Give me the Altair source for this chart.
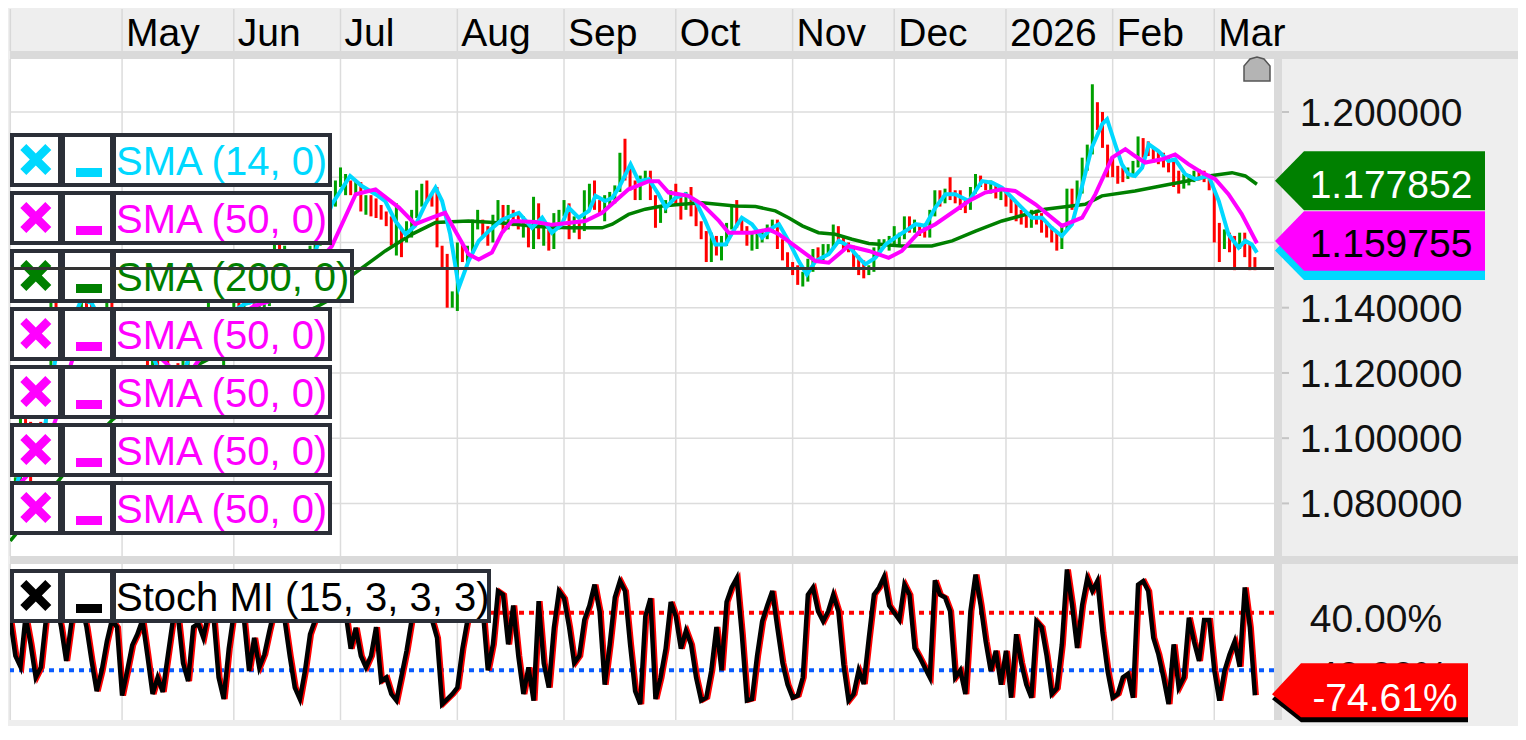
import altair as alt
import pandas as pd

FONT = "Liberation Sans"

# ---------------- values ----------------
# daily bars (trading-day index 0 = 1 Apr 2025 ... 245 = 12 Mar 2026)
close = [
    1.0790, 1.0850, 1.1050, 1.0960, 1.0910, 1.0960, 1.0950, 1.1190, 1.1360, 1.1350,
    1.1285, 1.1395, 1.1370, 1.1390, 1.1510, 1.1420, 1.1310, 1.1390, 1.1365, 1.1420,
    1.1380, 1.1330, 1.1290, 1.1300, 1.1315, 1.1370, 1.1300, 1.1220, 1.1250, 1.1090,
    1.1190, 1.1180, 1.1190, 1.1160, 1.1240, 1.1285, 1.1330, 1.1280, 1.1360, 1.1385,
    1.1325, 1.1290, 1.1370, 1.1350, 1.1440, 1.1370, 1.1415, 1.1445, 1.1395, 1.1420,
    1.1425, 1.1490, 1.1580, 1.1550, 1.1560, 1.1480, 1.1480, 1.1490, 1.1520, 1.1580,
    1.1610, 1.1660, 1.1700, 1.1720, 1.1785, 1.1800, 1.1800, 1.1760, 1.1780, 1.1710,
    1.1725, 1.1720, 1.1700, 1.1690, 1.1670, 1.1600, 1.1640, 1.1600, 1.1625, 1.1690,
    1.1755, 1.1770, 1.1750, 1.1740, 1.1590, 1.1545, 1.1405, 1.1410, 1.1590, 1.1570,
    1.1575, 1.1660, 1.1665, 1.1640, 1.1615, 1.1675, 1.1705, 1.1650, 1.1700, 1.1660,
    1.1650, 1.1650, 1.1610, 1.1720, 1.1620, 1.1640, 1.1590, 1.1680, 1.1685, 1.1710,
    1.1640, 1.1660, 1.1645, 1.1720, 1.1760, 1.1710, 1.1700, 1.1735, 1.1735, 1.1765,
    1.1850, 1.1815, 1.1780, 1.1745, 1.1800, 1.1815, 1.1740, 1.1665, 1.1700, 1.1725,
    1.1735, 1.1730, 1.1715, 1.1740, 1.1710, 1.1660, 1.1630, 1.1560, 1.1620, 1.1570,
    1.1605, 1.1650, 1.1690, 1.1655, 1.1645, 1.1605, 1.1610, 1.1615, 1.1625, 1.1645,
    1.1655, 1.1600, 1.1565, 1.1535, 1.1520, 1.1480, 1.1495, 1.1545, 1.1565, 1.1560,
    1.1580, 1.1590, 1.1630, 1.1620, 1.1590, 1.1580, 1.1540, 1.1530, 1.1510, 1.1520,
    1.1570, 1.1595, 1.1600, 1.1600, 1.1610, 1.1620, 1.1665, 1.1645, 1.1645, 1.1640,
    1.1630, 1.1690, 1.1740, 1.1735, 1.1750, 1.1745, 1.1740, 1.1725, 1.1710, 1.1760,
    1.1790, 1.1780, 1.1770, 1.1770, 1.1745, 1.1745, 1.1720, 1.1705, 1.1690, 1.1665,
    1.1660, 1.1685, 1.1670, 1.1650, 1.1640, 1.1615, 1.1600, 1.1640, 1.1730, 1.1720,
    1.1760, 1.1840, 1.1880, 1.2020, 1.1960, 1.1950, 1.1850, 1.1820, 1.1810, 1.1800,
    1.1815, 1.1840, 1.1900, 1.1890, 1.1880, 1.1860, 1.1850, 1.1845, 1.1830, 1.1790,
    1.1780, 1.1790, 1.1800, 1.1810, 1.1805, 1.1800, 1.1780, 1.1640, 1.1600, 1.1620,
    1.1615, 1.1570, 1.1610, 1.1600, 1.1560, 1.1540,
]
high = [
    1.0835, 1.0880, 1.1145, 1.1110, 1.1050, 1.0990, 1.1050, 1.1215, 1.1470, 1.1420,
    1.1375, 1.1400, 1.1390, 1.1395, 1.1575, 1.1510, 1.1415, 1.1400, 1.1390, 1.1425,
    1.1420, 1.1385, 1.1350, 1.1365, 1.1355, 1.1380, 1.1380, 1.1310, 1.1270, 1.1250,
    1.1205, 1.1265, 1.1210, 1.1230, 1.1290, 1.1300, 1.1365, 1.1345, 1.1375, 1.1420,
    1.1390, 1.1335, 1.1385, 1.1385, 1.1455, 1.1445, 1.1435, 1.1495, 1.1450, 1.1430,
    1.1450, 1.1500, 1.1630, 1.1615, 1.1590, 1.1560, 1.1520, 1.1500, 1.1540, 1.1590,
    1.1640, 1.1680, 1.1745, 1.1755, 1.1790, 1.1830, 1.1810, 1.1790, 1.1790, 1.1785,
    1.1745, 1.1745, 1.1735, 1.1715, 1.1695, 1.1680, 1.1720, 1.1640, 1.1665, 1.1700,
    1.1760, 1.1780, 1.1790, 1.1750, 1.1770, 1.1590, 1.1565, 1.1450, 1.1600, 1.1600,
    1.1590, 1.1670, 1.1700, 1.1670, 1.1650, 1.1685, 1.1730, 1.1715, 1.1715, 1.1700,
    1.1690, 1.1680, 1.1660, 1.1740, 1.1720, 1.1660, 1.1660, 1.1690, 1.1700, 1.1730,
    1.1720, 1.1680, 1.1670, 1.1760, 1.1780, 1.1790, 1.1730, 1.1745, 1.1755, 1.1775,
    1.1875, 1.1918, 1.1830, 1.1790, 1.1805, 1.1820, 1.1820, 1.1745, 1.1710, 1.1730,
    1.1760, 1.1780, 1.1750, 1.1755, 1.1770, 1.1720, 1.1665, 1.1635, 1.1630, 1.1620,
    1.1620, 1.1660, 1.1715, 1.1730, 1.1670, 1.1650, 1.1630, 1.1630, 1.1640, 1.1655,
    1.1670, 1.1670, 1.1610, 1.1570, 1.1540, 1.1530, 1.1510, 1.1550, 1.1580, 1.1585,
    1.1595, 1.1595, 1.1655, 1.1650, 1.1620, 1.1600, 1.1590, 1.1560, 1.1545, 1.1530,
    1.1585, 1.1610, 1.1610, 1.1620, 1.1650, 1.1630, 1.1680, 1.1680, 1.1670, 1.1660,
    1.1655, 1.1700, 1.1760, 1.1760, 1.1765, 1.1800, 1.1760, 1.1760, 1.1730, 1.1770,
    1.1810, 1.1805, 1.1790, 1.1790, 1.1775, 1.1760, 1.1760, 1.1740, 1.1725, 1.1700,
    1.1690, 1.1700, 1.1700, 1.1690, 1.1665, 1.1650, 1.1630, 1.1655, 1.1765, 1.1765,
    1.1790, 1.1860, 1.1900, 1.2085, 1.2030, 1.2000, 1.1900, 1.1860, 1.1835, 1.1830,
    1.1830, 1.1850, 1.1925, 1.1920, 1.1910, 1.1890, 1.1880, 1.1875, 1.1865, 1.1850,
    1.1820, 1.1810, 1.1810, 1.1820, 1.1825, 1.1820, 1.1810, 1.1760, 1.1660, 1.1640,
    1.1630, 1.1620, 1.1630, 1.1630, 1.1600, 1.1555,
]
low = [
    1.0770, 1.0780, 1.0850, 1.0940, 1.0810, 1.0890, 1.0890, 1.0940, 1.1190, 1.1300,
    1.1265, 1.1270, 1.1335, 1.1355, 1.1390, 1.1400, 1.1290, 1.1300, 1.1320, 1.1340,
    1.1365, 1.1310, 1.1265, 1.1270, 1.1285, 1.1300, 1.1295, 1.1200, 1.1195, 1.1065,
    1.1085, 1.1170, 1.1130, 1.1140, 1.1130, 1.1210, 1.1280, 1.1250, 1.1275, 1.1355,
    1.1300, 1.1280, 1.1210, 1.1320, 1.1345, 1.1355, 1.1365, 1.1410, 1.1370, 1.1380,
    1.1395, 1.1405, 1.1480, 1.1490, 1.1540, 1.1470, 1.1460, 1.1445, 1.1470, 1.1450,
    1.1580, 1.1590, 1.1655, 1.1680, 1.1710, 1.1770, 1.1745, 1.1745, 1.1745, 1.1695,
    1.1685, 1.1680, 1.1675, 1.1670, 1.1650, 1.1590, 1.1560, 1.1555, 1.1600, 1.1615,
    1.1675, 1.1710, 1.1725, 1.1710, 1.1585, 1.1520, 1.1400, 1.1400, 1.1390, 1.1540,
    1.1530, 1.1565, 1.1640, 1.1620, 1.1590, 1.1600, 1.1660, 1.1630, 1.1640, 1.1650,
    1.1640, 1.1615, 1.1585, 1.1580, 1.1610, 1.1590, 1.1575, 1.1580, 1.1640, 1.1680,
    1.1610, 1.1630, 1.1610, 1.1635, 1.1705, 1.1700, 1.1690, 1.1665, 1.1710, 1.1720,
    1.1755, 1.1790, 1.1760, 1.1730, 1.1730, 1.1780, 1.1730, 1.1645, 1.1660, 1.1690,
    1.1720, 1.1715, 1.1670, 1.1700, 1.1680, 1.1650, 1.1610, 1.1540, 1.1540, 1.1560,
    1.1545, 1.1590, 1.1640, 1.1645, 1.1630, 1.1590, 1.1575, 1.1580, 1.1600, 1.1610,
    1.1630, 1.1580, 1.1545, 1.1520, 1.1500, 1.1470, 1.1465, 1.1480, 1.1510, 1.1540,
    1.1545, 1.1560, 1.1580, 1.1600, 1.1575, 1.1570, 1.1525, 1.1500, 1.1490, 1.1500,
    1.1510, 1.1560, 1.1585, 1.1575, 1.1590, 1.1590, 1.1610, 1.1630, 1.1630, 1.1620,
    1.1615, 1.1615, 1.1680, 1.1710, 1.1720, 1.1730, 1.1720, 1.1700, 1.1690, 1.1700,
    1.1750, 1.1770, 1.1760, 1.1750, 1.1735, 1.1730, 1.1710, 1.1690, 1.1665, 1.1655,
    1.1645, 1.1645, 1.1655, 1.1630, 1.1615, 1.1600, 1.1575, 1.1580, 1.1640, 1.1700,
    1.1710, 1.1750, 1.1820, 1.1870, 1.1945, 1.1890, 1.1800, 1.1800, 1.1780, 1.1785,
    1.1795, 1.1800, 1.1830, 1.1860, 1.1865, 1.1845, 1.1840, 1.1830, 1.1815, 1.1770,
    1.1750, 1.1765, 1.1775, 1.1785, 1.1790, 1.1785, 1.1760, 1.1600, 1.1540, 1.1580,
    1.1570, 1.1515, 1.1580, 1.1555, 1.1515, 1.1515,
]

# SMA (14, 0) - cyan
fast_i = [0, 2, 4, 6, 8, 10, 12, 14, 16, 18, 20, 22, 24, 26, 28, 30, 32, 34, 36, 38,
          40, 42, 44, 46, 48, 50, 52, 54, 56, 58, 60, 62,
          63.3, 66.9, 69.2, 71.9, 73.8, 75.8, 77.8, 79.7, 81.7, 83.7, 85.0, 86.6, 88.3,
          90.2, 92.2, 94.2, 96.8,
          100.1, 102.7, 104.7, 106.6, 108.6, 109.9, 111.9, 113.9, 115.2, 117.1,
          118.5, 119.8, 122.1, 123.7, 125.7, 127.6, 129.0, 130.9, 132.9, 134.9,
          136.8, 138.8, 140.8, 142.7, 144.0, 146.0, 148.0, 150.0, 151.3, 153.2,
          155.2, 156.8, 158.5, 161.1, 163.1, 165.0, 167.0, 168.3, 170.3, 172.3,
          174.2, 176.2, 178.2, 180.1, 182.1, 184.1, 186.0, 188.7, 191.3, 193.3, 195.2,
          197.2, 199.1, 201.1, 203.1, 205.0, 207.0, 209.0, 210.9, 212.9, 214.9,
          215.9, 217.5, 218.8, 220.1, 221.4, 222.8, 224.1, 226.0, 228.0, 229.3,
          231.3, 233.3, 235.9, 237.9, 239.8, 241.8, 243.1, 244.4, 245.4]
fast_v = [1.0800, 1.0895, 1.0985, 1.0940, 1.1170, 1.1330, 1.1350, 1.1425, 1.1415, 1.1355,
          1.1390, 1.1335, 1.1305, 1.1330, 1.1255, 1.1175, 1.1185, 1.1195, 1.1285, 1.1325,
          1.1355, 1.1330, 1.1390, 1.1410, 1.1420, 1.1415, 1.1500, 1.1565, 1.1505, 1.1495,
          1.1570, 1.1660,
          1.1717, 1.1804, 1.1773, 1.1748, 1.1727, 1.1666, 1.1625, 1.1651, 1.1717, 1.1768,
          1.1727, 1.1625, 1.1462, 1.1543, 1.1605, 1.1635, 1.1670,
          1.1691, 1.1645, 1.1676, 1.1630, 1.1656, 1.1707, 1.1676, 1.1697, 1.1743, 1.1727,
          1.1737, 1.1768, 1.1840, 1.1788, 1.1794, 1.1748, 1.1707, 1.1737, 1.1748, 1.1727,
          1.1666, 1.1594, 1.1594, 1.1645, 1.1676, 1.1656, 1.1615, 1.1645, 1.1656, 1.1605,
          1.1543, 1.1502, 1.1543, 1.1564, 1.1605, 1.1589, 1.1553, 1.1533, 1.1553, 1.1594,
          1.1615, 1.1635, 1.1656, 1.1651, 1.1707, 1.1748, 1.1748, 1.1727, 1.1788, 1.1783,
          1.1768,
          1.1737, 1.1707, 1.1676, 1.1676, 1.1645, 1.1620, 1.1656, 1.1768, 1.1891, 1.1962,
          1.1978, 1.1901, 1.1840, 1.1809, 1.1804, 1.1829, 1.1901, 1.1880, 1.1850, 1.1855,
          1.1809, 1.1794, 1.1804, 1.1727, 1.1625, 1.1584, 1.1605, 1.1594, 1.1569]

# SMA (50, 0) - magenta
mid_i = [0, 3, 6, 9, 12, 15, 18, 21, 24, 27, 30, 33, 36, 39, 42, 45, 48, 51, 54, 57, 60,
         63.3, 68, 71.9, 76.5, 79.7, 83, 85.6, 87.6, 90.2, 92.2,
         94.8, 96.8, 98.8, 103.4, 106.6, 113.2, 116.5, 121.7, 125.7, 127.6,
         129.6, 133.5, 136.2, 139.5, 141.4, 146, 149.3, 151.3, 154.5, 158.5,
         161.1, 165, 169, 172.9, 175.5, 178.8, 182.1, 188.7, 191.9, 195.2,
         197.8, 201.8, 207, 211, 213.6, 216.9, 219.5, 221.4, 223.4, 226.7,
         229.3, 231.9, 234.6, 237.2, 239.8, 242.4, 245.4]
mid_v = [1.0830, 1.0880, 1.0935, 1.1060, 1.1230, 1.1360, 1.1395, 1.1380, 1.1335, 1.1310,
         1.1240, 1.1195, 1.1215, 1.1280, 1.1330, 1.1375, 1.1405, 1.1420, 1.1480, 1.1510,
         1.1530,
         1.1589, 1.1748, 1.1763, 1.1707, 1.1656, 1.1676, 1.1691, 1.1635, 1.1564, 1.1548,
         1.1569, 1.1630, 1.1666, 1.1663, 1.1654, 1.1666, 1.1691, 1.1763, 1.1788, 1.1788,
         1.1753, 1.1743, 1.1717, 1.1666, 1.1630, 1.1630, 1.1640, 1.1625, 1.1589, 1.1543,
         1.1538, 1.1589, 1.1574, 1.1553, 1.1574, 1.1630, 1.1656, 1.1727, 1.1753, 1.1763,
         1.1758, 1.1717, 1.1651, 1.1676, 1.1748, 1.1860, 1.1886, 1.1865, 1.1845, 1.1855,
         1.1870, 1.1840, 1.1814, 1.1794, 1.1748, 1.1687, 1.159755]

# SMA (200, 0) - green
slow_i = [0, 5, 10, 15, 20, 25, 30, 35, 40, 45, 50, 55, 60,
          62.5, 67.5, 73.8, 79, 83.7, 90.2, 96.8,
          103.4, 109.9, 116.5, 118.5, 121.7, 125, 128.3, 132.2, 136.2, 142.7,
          146.7, 150.6, 153.2, 155.9, 159.1, 162.4, 165.7, 169, 175.5, 181.4,
          185.4, 190, 195.2, 203.7, 211.6, 214.9, 221.4, 228, 231.9, 235.9,
          240.5, 243.1, 245.4]
slow_v = [1.0685, 1.0780, 1.0880, 1.0975, 1.1055, 1.1115, 1.1165, 1.1210, 1.1250, 1.1290,
          1.1330, 1.1365, 1.1400,
          1.1421, 1.1502, 1.1574, 1.1625, 1.1661, 1.1666, 1.1660,
          1.1649, 1.1645, 1.1645, 1.1656, 1.1686, 1.1702, 1.1712, 1.1717, 1.1722, 1.1712,
          1.1710, 1.1697, 1.1676, 1.1651, 1.1630, 1.1625, 1.1610, 1.1597, 1.1589, 1.1589,
          1.1605, 1.1635, 1.1666, 1.1702, 1.1717, 1.1743, 1.1758, 1.1778, 1.1789, 1.1804,
          1.1814, 1.1804, 1.177852]

# Stoch MI (15, 3, 3, 3), percent
stoch_k = [
    30, -20, -35, 35, -4, -50, -36, 30, 60, 55,
    20, -27, 25, 55, 50, 20, -27, -69, -40, 0,
    30, 20, -75, -41, -5, 10, 30, -20, -73, -50,
    -70, -20, 30, 35, -30, -55, 20, 25, 5, 40,
    35, -50, -80, -10, 40, 45, 30, -41, 5, -36,
    -18, 15, 45, 50, 30, -20, -64, -80, -41, 10,
    30, 50, 65, 75, 70, 60, 40, -10, 19, -20,
    -36, -20, 20, -55, -50, -73, -82, -48, -13, 30,
    55, 60, 55, 30, 5, -87, -80, -73, -64, -10,
    30, 40, 50, 45, -40, -4, 70, 65, -4, 50,
    -20, -73, -36, -82, 56, -30, -64, 19, 70, 60,
    20, -30, -20, 30, 50, 79, 42, -60, -4, 61,
    84, 70, -4, -69, -87, 35, 60, -80, -50, -10,
    55, 35, -10, 15, -4, -50, -82, -78, -40, 20,
    -40, 55, 75, 88, 10, -82, -80, -20, 28, 50,
    70, 19, -30, -60, -78, -75, -50, 65, 75, 42,
    28, 42, 65, 42, -32, -82, -73, -40, -59, 5,
    65, 75, 90, 50, 40, 30, 79, 65, -9, -22,
    -36, -50, 85, 65, 61, 42, -50, -40, -73, 42,
    93, 51, 0, -41, -13, -60, -13, -78, 10, -30,
    -60, -78, 28, 20, -20, -73, -65, -4, 100, 51,
    -9, 51, 88, 70, 84, 12, -41, -78, -73, -50,
    -45, -78, 79, 84, 70, 5, -18, -50, -87, -4,
    -64, -50, 33, 0, -27, 30, 30, -40, -82, -41,
    -18, 0, -35, 75, 20, -74.61,
]

support_level = 1.1520
month_start = [0, 22, 44, 65, 88, 109, 131, 154, 174, 196, 217, 237]
month_label = ["", "May", "Jun", "Jul", "Aug", "Sep", "Oct", "Nov", "Dec", "2026", "Feb", "Mar"]
price_ticks = [1.08, 1.10, 1.12, 1.14, 1.16, 1.18, 1.20]
# 1.16 / 1.18 labels sit under the value tags in the reference
price_tick_labels = ["1.080000", "1.100000", "1.120000", "1.140000", "", "", "1.200000"]
stoch_ticks = [40, -40]
legend_names = ["SMA (14, 0)", "SMA (50, 0)", "SMA (200, 0)", "SMA (50, 0)",
                "SMA (50, 0)", "SMA (50, 0)", "SMA (50, 0)"]
stoch_name = "Stoch MI (15, 3, 3, 3)"

# ---------------- styling ----------------
CYAN, MAGENTA, DGREEN = "#00d8ff", "#ff00ff", "#008000"
UP, DOWN = "#00a000", "#ff0000"
legend_colors = [CYAN, MAGENTA, DGREEN, MAGENTA, MAGENTA, MAGENTA, MAGENTA]
BORDER = "#2b2f38"
GRID = "#dcdcdc"
BAND = "#eeeeee"
STRIP = "#dadada"

W, H1, H2, TW = 1264, 497, 156, 1508

xs = alt.Scale(domain=[-0.059, 248.76], nice=False, zero=False)
ys_p = alt.Scale(domain=[1.063874, 1.216249], nice=False, zero=False)
ys_s = alt.Scale(domain=[-109.03, 107.64], nice=False, zero=False)

XPATH = ("M -15.5 -9.5 L -9.5 -15.5 L 0 -6 L 9.5 -15.5 L 15.5 -9.5 L 6 0 "
         "L 15.5 9.5 L 9.5 15.5 L 0 6 L -9.5 15.5 L -15.5 9.5 L -6 0 Z")


def one():
    return pd.DataFrame({"a": [0]})


def px_rects(rows):
    df = pd.DataFrame(rows, columns=["x0", "x1", "y0", "y1", "c"])
    return alt.Chart(df).mark_rect().encode(
        x=alt.X("x0:Q", scale=None, axis=None), x2=alt.X2("x1"),
        y=alt.Y("y0:Q", scale=None, axis=None), y2=alt.Y2("y1"),
        color=alt.Color("c:N", scale=None, legend=None))


def legend_layers(rows):
    """rows: list of (top_py, right_px, label, color)"""
    rects, xs_pts, texts = [], [], []
    for top, right, lab, col in rows:
        bot = top + 54
        rects.append((0, right, top, bot, BORDER))
        rects.append((4, 48, top + 4, bot - 4, "white"))
        rects.append((55, 100, top + 4, bot - 4, "white"))
        rects.append((106, right - 4, top + 4, bot - 4, "white"))
        rects.append((66, 92, top + 35, top + 44, col))
        xs_pts.append({"px": 25.8, "py": top + 26.5, "c": col})
        texts.append({"px": 106, "py": top + 41.5, "c": col, "t": lab})
    r = px_rects(rects)
    p = alt.Chart(pd.DataFrame(xs_pts)).mark_point(
        shape=XPATH, size=4, filled=True, opacity=1, strokeWidth=0).encode(
        x=alt.X("px:Q", scale=None, axis=None), y=alt.Y("py:Q", scale=None, axis=None),
        color=alt.Color("c:N", scale=None, legend=None))
    t = alt.Chart(pd.DataFrame(texts)).mark_text(
        align="left", baseline="alphabetic", font=FONT, fontSize=40).encode(
        x=alt.X("px:Q", scale=None, axis=None), y=alt.Y("py:Q", scale=None, axis=None),
        text="t:N", color=alt.Color("c:N", scale=None, legend=None))
    return [r, p, t]


# ---------------- tables ----------------
n = len(close)
dirs = ["up"] + ["up" if close[i] >= close[i - 1] else "down" for i in range(1, n)]
bars = pd.DataFrame({"i": list(range(n)), "hi": high, "lo": low, "dir": dirs})
fast = pd.DataFrame({"i": fast_i, "v": fast_v})
mid = pd.DataFrame({"i": mid_i, "v": mid_v})
slow = pd.DataFrame({"i": slow_i, "v": slow_v})
months = pd.DataFrame({"i": month_start, "lab": month_label})
pt = pd.DataFrame({"v": price_ticks, "lab": price_tick_labels})
stoch = pd.DataFrame({"i": list(range(n)), "k": stoch_k})
st = pd.DataFrame({"v": stoch_ticks, "lab": [f"{v:.2f}%" for v in stoch_ticks]})

X = alt.X("i:Q", scale=xs, axis=None)

# ---------------- price panel ----------------
p_layers = []
p_layers.append(alt.Chart(months).mark_rule(color=GRID, strokeWidth=1.5).encode(x=X))
p_layers.append(alt.Chart(pt).mark_rule(color=GRID, strokeWidth=1.5).encode(
    y=alt.Y("v:Q", scale=ys_p, axis=None)))
p_layers.append(alt.Chart(bars).mark_rule(strokeWidth=3, clip=True).encode(
    x=X, y=alt.Y("lo:Q", scale=ys_p, axis=None), y2=alt.Y2("hi"),
    color=alt.Color("dir:N", scale=alt.Scale(domain=["up", "down"], range=[UP, DOWN]),
                    legend=None)))
p_layers.append(alt.Chart(slow).mark_line(color=DGREEN, strokeWidth=3.5, clip=True).encode(
    x=X, y=alt.Y("v:Q", scale=ys_p, axis=None)))
p_layers.append(alt.Chart(fast).mark_line(color=CYAN, strokeWidth=4, clip=True).encode(
    x=X, y=alt.Y("v:Q", scale=ys_p, axis=None)))
p_layers.append(alt.Chart(mid).mark_line(color=MAGENTA, strokeWidth=4, clip=True).encode(
    x=X, y=alt.Y("v:Q", scale=ys_p, axis=None)))

rows = []
for k, (lab, col) in enumerate(zip(legend_names, legend_colors)):
    rows.append((74 + 58 * k, 344 if "200" in lab else 322, lab, col))
p_layers += legend_layers(rows)

p_layers.append(alt.Chart(pd.DataFrame({"v": [support_level]})).mark_rule(
    color="#333333", strokeWidth=3).encode(
    y=alt.Y("v:Q", scale=ys_p, axis=None), x=alt.value(0), x2=alt.value(1269)))

# frame: top band, strips, right axis area
p_layers.append(px_rects([
    (0, TW, -50, 0, BAND),
    (0, TW, -8, 0, STRIP),
    (W, W + 8, 0, H1, STRIP),
]))
p_layers.append(alt.Chart(months).mark_rule(color="#d8d8d8", strokeWidth=1.5).encode(
    x=X, y=alt.value(-50), y2=alt.value(-8)))
p_layers.append(alt.Chart(months).mark_text(
    align="left", baseline="alphabetic", dx=4, font=FONT, fontSize=39, color="#000000").encode(
    x=X, y=alt.value(-13), text="lab:N"))
p_layers.append(alt.Chart(pt).mark_rule(color="#c4c4c4", strokeWidth=2).encode(
    y=alt.Y("v:Q", scale=ys_p, axis=None), x=alt.value(W + 8), x2=alt.value(W + 15)))
p_layers.append(alt.Chart(pt).mark_text(
    align="center", baseline="alphabetic", dy=14, font=FONT, fontSize=39, color="#111111").encode(
    y=alt.Y("v:Q", scale=ys_p, axis=None), x=alt.value(1371), text="lab:N"))

# value tags
tag_fast = pd.DataFrame({"v": [fast_v[-1]]})
tag_mid = pd.DataFrame({"v": [mid_v[-1]], "lab": [f"{mid_v[-1]:.6f}"]})
tag_slow = pd.DataFrame({"v": [slow_v[-1]], "lab": [f"{slow_v[-1]:.6f}"]})
TAG_C = "M 0 -2 L 29 -31.5 L 210 -31.5 L 210 27.5 L 29 27.5 Z"
TAG_M = "M 0 -2.3 L 29 -32 L 210 -32 L 210 27.5 L 29 27.5 Z"
TAG_G = "M 0 -3.5 L 29 -33 L 210 -33 L 210 26 L 29 26 Z"
for df, path, col in [(tag_fast, TAG_C, CYAN), (tag_mid, TAG_M, MAGENTA), (tag_slow, TAG_G, DGREEN)]:
    p_layers.append(alt.Chart(df).mark_point(
        shape=path, size=4, filled=True, opacity=1, strokeWidth=0, color=col).encode(
        x=alt.value(W + 1), y=alt.Y("v:Q", scale=ys_p, axis=None)))
for df, col in [(tag_mid, "#000000"), (tag_slow, "#ffffff")]:
    p_layers.append(alt.Chart(df).mark_text(
        align="center", baseline="alphabetic", dy=14, font=FONT, fontSize=39, color=col).encode(
        x=alt.value(1381), y=alt.Y("v:Q", scale=ys_p, axis=None), text="lab:N"))

HOME = "M -13 12 L -13 -3 L -7 -10 L 0 -12 L 7 -10 L 13 -3 L 13 12 Z"
p_layers.append(alt.Chart(one()).mark_point(
    shape=HOME, size=4, filled=True, opacity=1, color="#b4b4b4",
    stroke="#555555", strokeWidth=1.5).encode(x=alt.value(1247), y=alt.value(10)))

price = alt.layer(*p_layers).properties(width=W, height=H1)

# ---------------- stochastic panel ----------------
s_layers = []
s_layers.append(alt.Chart(months).mark_rule(color=GRID, strokeWidth=1.5).encode(x=X))
s_layers.append(alt.Chart(pd.DataFrame({"v": stoch_ticks, "c": ["#ff0000", "#0a5cff"]})).mark_rule(
    strokeWidth=4, strokeDash=[5, 5]).encode(
    y=alt.Y("v:Q", scale=ys_s, axis=None), color=alt.Color("c:N", scale=None, legend=None)))
s_layers.append(alt.Chart(stoch).transform_calculate(j="datum.i + 0.4").mark_line(
    color="#ff0000", strokeWidth=4, clip=True).encode(
    x=alt.X("j:Q", scale=xs, axis=None), y=alt.Y("k:Q", scale=ys_s, axis=None)))
s_layers.append(alt.Chart(stoch).mark_line(color="#000000", strokeWidth=4.5, clip=True).encode(
    x=X, y=alt.Y("k:Q", scale=ys_s, axis=None)))
s_layers += legend_layers([(5, 481, stoch_name, "#000000")])

s_layers.append(px_rects([
    (0, TW, -8, 0, STRIP),
    (W, W + 8, 0, H2, STRIP),
    (0, TW, H2, H2 + 6, BAND),
]))
s_layers.append(alt.Chart(st).mark_text(
    align="center", baseline="alphabetic", dy=19, font=FONT, fontSize=39, color="#111111").encode(
    y=alt.Y("v:Q", scale=ys_s, axis=None), x=alt.value(1366), text="lab:N"))

tag_k = pd.DataFrame({"v": [stoch_k[-1]], "lab": [f"{stoch_k[-1]:.2f}%"]})
TAG_K = "M 0 4 L 29 -27 L 196 -27 L 196 27 L 29 27 Z"
TAG_R = "M 0 -1 L 29 -32 L 196 -32 L 196 22 L 29 22 Z"
for path, col in [(TAG_K, "#000000"), (TAG_R, "#ff0000")]:
    s_layers.append(alt.Chart(tag_k).mark_point(
        shape=path, size=4, filled=True, opacity=1, strokeWidth=0, color=col).encode(
        x=alt.value(1262), y=alt.Y("v:Q", scale=ys_s, axis=None)))
s_layers.append(alt.Chart(tag_k).mark_text(
    align="center", baseline="alphabetic", dy=16, font=FONT, fontSize=39, color="#ffffff").encode(
    x=alt.value(1375), y=alt.Y("v:Q", scale=ys_s, axis=None), text="lab:N"))

lower = alt.layer(*s_layers).properties(width=W, height=H2)

chart = alt.vconcat(price, lower, spacing=8, bounds="flush").properties(
    background=BAND, padding=0
).configure_view(stroke=None, fill="white")

chart.save("out.html", embed_options={"renderer": "svg", "actions": False})
